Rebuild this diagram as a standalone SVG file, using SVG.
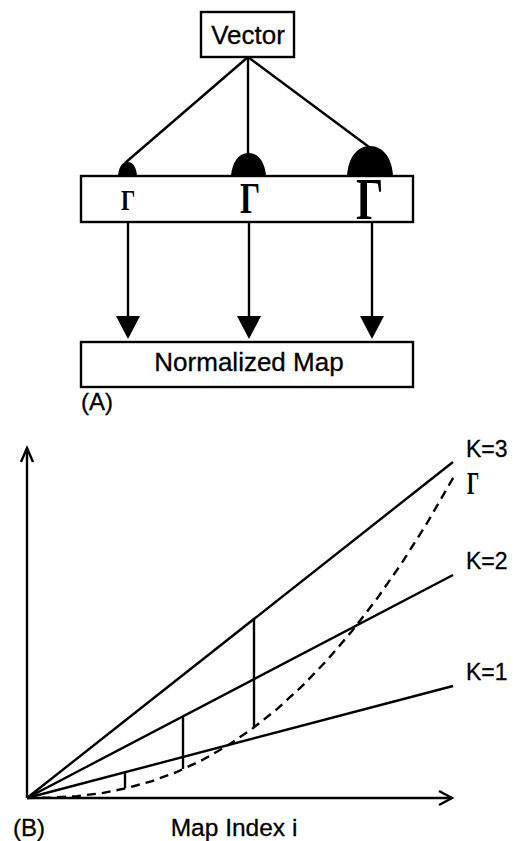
<svg xmlns="http://www.w3.org/2000/svg" width="521" height="841" viewBox="0 0 521 841">
  <style>
    .box { fill: #fff; stroke: #000; stroke-width: 2.4; }
    .lbl { font-family: "Liberation Sans", Arial, sans-serif; fill: #000; stroke: #000; stroke-width: 0.3; }
    .gam { font-family: "Liberation Serif", "Times New Roman", serif; font-weight: bold; fill: #000; }
    .ln { stroke: #000; stroke-width: 2.4; fill: none; }
    .dash { stroke: #000; stroke-width: 2.4; fill: none; stroke-dasharray: 9 6; }
  </style>
  <rect width="521" height="841" fill="#fff"/>

  <!-- Part (A) -->
  <g id="vector">
    <rect class="box" x="201" y="12" width="93" height="45"/>
    <text class="lbl" x="248" y="44" font-size="26" text-anchor="middle">Vector</text>
  </g>

  <g id="connectors">
    <line class="ln" x1="248" y1="57" x2="125" y2="163"/>
    <line class="ln" x1="248" y1="57" x2="248" y2="154"/>
    <line class="ln" x1="248" y1="57" x2="369" y2="147"/>
    <line class="ln" x1="128" y1="222" x2="128" y2="316"/>
    <line class="ln" x1="249" y1="222" x2="249" y2="316"/>
    <line class="ln" x1="372" y1="222" x2="372" y2="316"/>
    <path d="M116,316 L140,316 L128,339 Z" fill="#000"/>
    <path d="M237,316 L261,316 L249,339 Z" fill="#000"/>
    <path d="M360,316 L384,316 L372,339 Z" fill="#000"/>
  </g>

  <g id="gain-stage">
    <!-- weighting domes of increasing size -->
    <path d="M118,176 C118.5,169 121,162 127.5,162 C134,162 136.5,169 137,176 Z" fill="#000"/>
    <path d="M231,176 C232,163 238,153 248.5,153 C259,153 265,163 266,176 Z" fill="#000"/>
    <path d="M347,176 C348,158 357,146 370,146 C383,146 392,158 393,176 Z" fill="#000"/>
    <rect class="box" x="81" y="176" width="332" height="46"/>
    <text class="gam" font-size="30" transform="translate(121,210) scale(0.75,1)">Γ</text>
    <text class="gam" font-size="44" transform="translate(240,213) scale(0.72,1)">Γ</text>
    <text class="gam" font-size="59" transform="translate(356,219) scale(0.73,1)">Γ</text>
  </g>

  <g id="normalized-map">
    <rect class="box" x="81" y="342" width="332" height="45"/>
    <text class="lbl" x="249" y="371" font-size="26" text-anchor="middle">Normalized Map</text>
  </g>

  <text class="lbl" x="81" y="410" font-size="24">(A)</text>

  <!-- Part (B): gain curves -->
  <g id="axes">
    <line class="ln" x1="27" y1="798" x2="27" y2="448"/>
    <polyline class="ln" points="21,462 27,448 33,462"/>
    <line class="ln" x1="27" y1="798" x2="452" y2="798"/>
    <polyline class="ln" points="439,791 452,798 439,805"/>
  </g>

  <g id="lines">
    <line class="ln" x1="27" y1="798" x2="453" y2="462"/>
    <line class="ln" x1="27" y1="798" x2="453" y2="575"/>
    <line class="ln" x1="27" y1="798" x2="453" y2="686"/>
    <polyline class="dash" points="27,798 52,797.6 77,796.1 102,793.1 127,788.1 152,781.1 177,771.9 202,760.2 227,746 252,728.9 277,709.1 302,686.2 327,660.3 352,631.1 377,598.6 402,562.7 427,523.2 456,473"/>
    <line class="ln" x1="125" y1="772" x2="125" y2="788"/>
    <line class="ln" x1="183" y1="716" x2="183" y2="769"/>
    <line class="ln" x1="254" y1="619" x2="254" y2="727"/>
  </g>

  <g id="labels">
    <text class="lbl" x="466" y="457" font-size="23">K=3</text>
    <text class="lbl" x="466" y="569" font-size="23">K=2</text>
    <text class="lbl" x="466" y="680" font-size="23">K=1</text>
    <text class="gam" font-size="31" transform="translate(467,494) scale(0.62,1)">Γ</text>
    <text class="lbl" x="13" y="836" font-size="24">(B)</text>
    <text class="lbl" x="234" y="836" font-size="24.5" text-anchor="middle">Map Index i</text>
  </g>
</svg>
